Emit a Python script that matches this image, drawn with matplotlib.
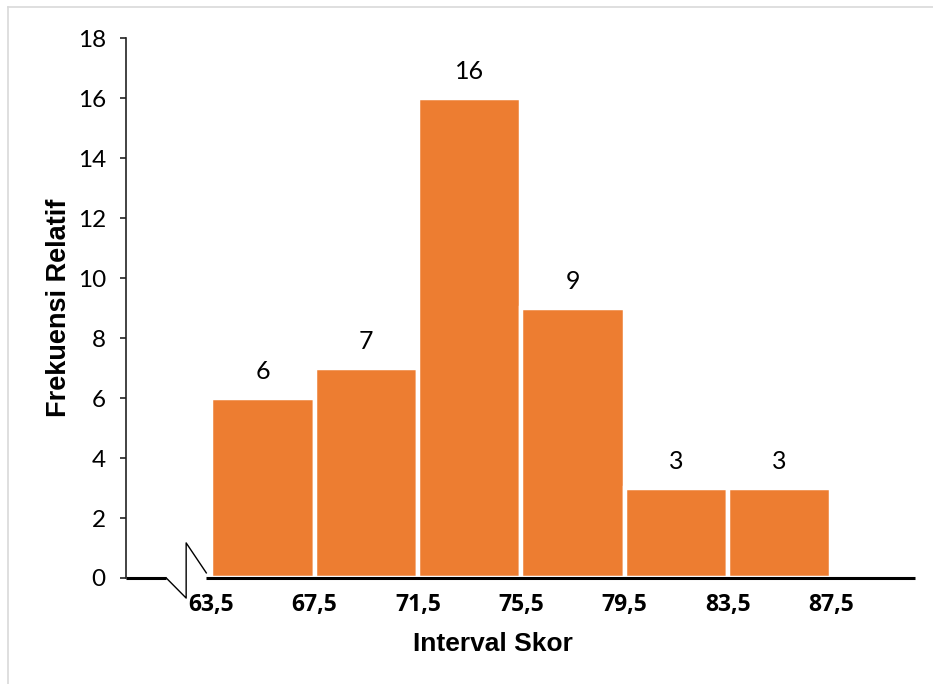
import matplotlib.pyplot as plt
from matplotlib.lines import Line2D

# histogram data: class edges and frequencies
edges = [63.5, 67.5, 71.5, 75.5, 79.5, 83.5, 87.5]
freq = [6, 7, 16, 9, 3, 3]
edge_labels = ['63,5', '67,5', '71,5', '75,5', '79,5', '83,5', '87,5']
y_ticks = [0, 2, 4, 6, 8, 10, 12, 14, 16, 18]

ORANGE = '#ED7D31'

fig = plt.figure(figsize=(9.33, 6.84), dpi=100)
ax = fig.add_axes([0.135, 0.155, 0.846, 0.789])

lefts = edges[:-1]
widths = [b - a for a, b in zip(edges[:-1], edges[1:])]
bars = ax.bar(lefts, freq, width=widths, align='edge', color=ORANGE,
              edgecolor='white', linewidth=3.2)

for rect, f in zip(bars, freq):
    ax.annotate(str(f), (rect.get_x() + rect.get_width() / 2, f),
                xytext=(0, 19), textcoords='offset points',
                ha='center', va='center', fontsize=18, family='Lato')

ax.set_xlim(60.2, 90.75)
ax.set_ylim(0, 18)

# axes styling
for s in ['top', 'right', 'bottom']:
    ax.spines[s].set_visible(False)
ax.spines['left'].set_linewidth(1.2)
ax.spines['left'].set_color('#222222')

ax.set_yticks(y_ticks)
ax.set_yticklabels([str(v) for v in y_ticks], family='Lato', fontsize=17.5)
ax.tick_params(axis='y', length=4.5, width=1.2, color='#222222', pad=10)

ax.set_xticks(edges)
ax.set_xticklabels(edge_labels, family='Open Sans', fontweight='bold',
                   fontsize=16.5)
ax.tick_params(axis='x', length=0, pad=11)

# x axis with break mark
ax.plot([60.2, 61.76], [0, 0], color='black', lw=2.2, clip_on=False,
        solid_capstyle='butt')
ax.plot([63.31, 90.75], [0, 0], color='black', lw=2.2, clip_on=False,
        solid_capstyle='butt')
ax.plot([61.76, 62.53, 62.53, 63.31], [0, -0.67, 1.17, 0.17],
        color='black', lw=1.0, clip_on=False)

ax.set_xlabel('Interval Skor', family='Liberation Sans', fontweight='bold',
              fontsize=19)
ax.xaxis.set_label_coords(0.465, -0.10)
ax.set_ylabel('Frekuensi Relatif', family='Liberation Sans', fontweight='bold',
              fontsize=19.5)
ax.yaxis.set_label_coords(-0.068, 0.5)

# light frame of the chart area
fig.add_artist(Line2D([8 / 933, 8 / 933], [0, 1 - 7 / 684],
                      transform=fig.transFigure, color='#D9D9D9', lw=1.2))
fig.add_artist(Line2D([8 / 933, 1], [1 - 7 / 684, 1 - 7 / 684],
                      transform=fig.transFigure, color='#D9D9D9', lw=1.2))

fig.savefig('out.png', dpi=100)
